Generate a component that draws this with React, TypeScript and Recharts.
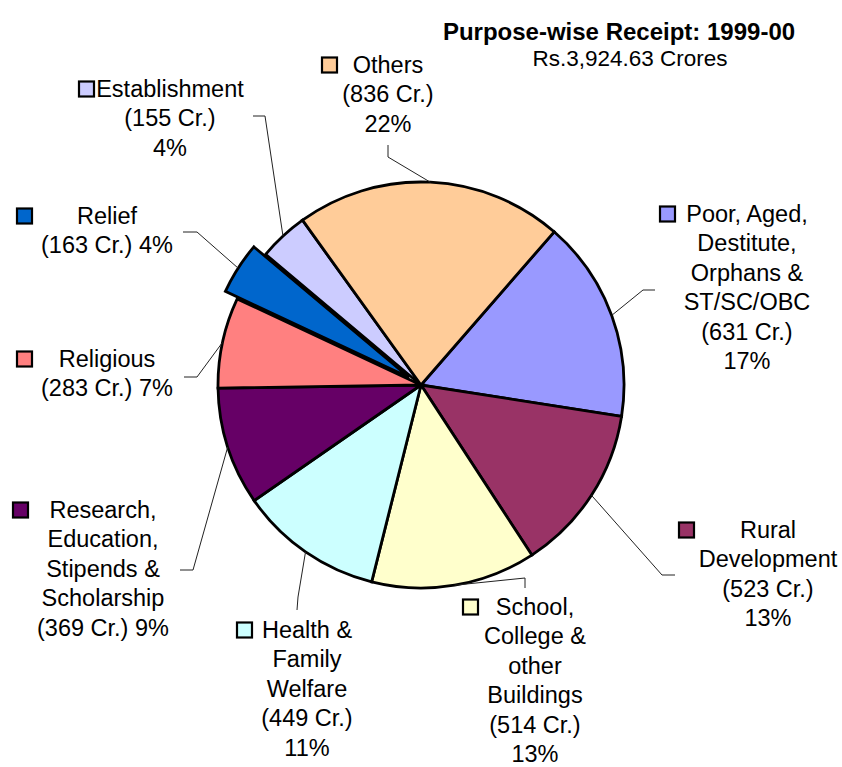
import { PieChart, Pie, Cell } from 'recharts';

// slices clockwise from the upper right, as in the reference
const CATEGORIES = [
  'Poor, Aged, Destitute, Orphans & ST/SC/OBC',
  'Rural Development',
  'School, College & other Buildings',
  'Health & Family Welfare',
  'Research, Education, Stipends & Scholarship',
  'Religious',
  'Relief',
  'Establishment',
  'Others',
];
const AMOUNTS = [631, 523, 514, 449, 369, 283, 163, 155, 836];
const PCT_LABELS = ['17%', '13%', '13%', '11%', '9%', '7%', '4%', '4%', '22%'];

const COLORS = ['#9999FF', '#993366', '#FFFFCC', '#CCFFFF', '#660066', '#FF8080', '#0066CC', '#CCCCFF', '#FFCC99'];

// label text wrapping ('|' = new line) and whether the % sits on the amount line
const WRAPPED = [
  'Poor, Aged,|Destitute,|Orphans &|ST/SC/OBC',
  'Rural|Development',
  'School,|College &|other|Buildings',
  'Health &|Family|Welfare',
  'Research,|Education,|Stipends &|Scholarship',
  'Religious',
  'Relief',
  'Establishment',
  'Others',
];
const PCT_INLINE = [false, false, false, false, true, true, true, false, false];

// label placement: text centre, first baseline, legend key x, leader line start + elbow
const LABEL_POS = [
  { x: 747, y: 222, keyX: 660, lead: [[655, 290], [643, 290]] },
  { x: 768, y: 538, keyX: 679, lead: [[675, 575], [662, 575]] },
  { x: 535, y: 615, keyX: 463, lead: [[525, 588], [525, 578]] },
  { x: 307, y: 638, keyX: 237, lead: [[297, 610], [298, 597]] },
  { x: 103, y: 518, keyX: 13, lead: [[180, 570], [193, 570]] },
  { x: 107, y: 367, keyX: 17, lead: [[184, 377], [197, 377]] },
  { x: 107, y: 224, keyX: 17, lead: [[183, 232], [197, 232]] },
  { x: 170, y: 97, keyX: 79, lead: [[253, 116], [265, 116]] },
  { x: 388, y: 73, keyX: 322, lead: [[388, 145], [388, 157]] },
];

const W = 842;
const H = 767;
const CX = 421;
const CY = 385;
const R = 203;
const START = 49;
const EXPLODED = 6;
const EXPLODE = 14;
const LINE_H = 29.4;
const FONT = '"Liberation Sans", Arial, sans-serif';
const RADIAN = Math.PI / 180;

const data = CATEGORIES.map((name, i) => ({ name, value: AMOUNTS[i] }));
const total = AMOUNTS.reduce((a, b) => a + b, 0);
const before = AMOUNTS.slice(0, EXPLODED).reduce((a, b) => a + b, 0);
const explodeMid = START - ((before + AMOUNTS[EXPLODED] / 2) / total) * 360;
const ex = EXPLODE * Math.cos(explodeMid * RADIAN);
const ey = -EXPLODE * Math.sin(explodeMid * RADIAN);

function renderLabel(props: any) {
  const { cx, cy, midAngle, outerRadius, index } = props;
  const pos = LABEL_POS[index];
  const ox = index === EXPLODED ? ex : 0;
  const oy = index === EXPLODED ? ey : 0;
  const px = cx + ox + outerRadius * Math.cos(-midAngle * RADIAN);
  const py = cy + oy + outerRadius * Math.sin(-midAngle * RADIAN);

  const lines = WRAPPED[index].split('|');
  const amount = `(${AMOUNTS[index]} Cr.)`;
  if (PCT_INLINE[index]) lines.push(`${amount} ${PCT_LABELS[index]}`);
  else lines.push(amount, PCT_LABELS[index]);

  const pts = [...pos.lead, [px, py]].map((p) => p.join(',')).join(' ');

  return (
    <g key={`lbl-${index}`}>
      <polyline points={pts} fill="none" stroke="#222" strokeWidth={1} />
      <rect
        x={pos.keyX}
        y={pos.y - 15.5}
        width={15}
        height={15}
        fill={COLORS[index]}
        stroke="#000"
        strokeWidth={2.2}
      />
      {lines.map((t, i) => (
        <text
          key={i}
          x={pos.x}
          y={pos.y + i * LINE_H}
          textAnchor="middle"
          fontFamily={FONT}
          fontSize={23.5}
          fill="#000"
        >
          {t}
        </text>
      ))}
    </g>
  );
}

export default function App() {
  return (
    <div style={{ position: 'absolute', left: 0, top: 0, width: W, height: H, background: '#fff' }}>
      <PieChart width={W} height={H} margin={{ top: 0, right: 0, bottom: 0, left: 0 }}>
        <Pie
          data={data}
          dataKey="value"
          nameKey="name"
          cx={CX}
          cy={CY}
          outerRadius={R}
          startAngle={START}
          endAngle={START - 360}
          stroke="#000"
          strokeWidth={2.8}
          label={renderLabel}
          labelLine={false}
          isAnimationActive={false}
        >
          {data.map((d, i) => (
            <Cell
              key={d.name}
              fill={i === EXPLODED ? 'none' : COLORS[i]}
              stroke={i === EXPLODED ? 'none' : '#000'}
            />
          ))}
        </Pie>
        <Pie
          data={data}
          dataKey="value"
          nameKey="name"
          cx={CX + ex}
          cy={CY + ey}
          outerRadius={R}
          startAngle={START}
          endAngle={START - 360}
          strokeWidth={2.8}
          isAnimationActive={false}
        >
          {data.map((d, i) => (
            <Cell
              key={d.name}
              fill={i === EXPLODED ? COLORS[i] : 'none'}
              stroke={i === EXPLODED ? '#000' : 'none'}
            />
          ))}
        </Pie>
      </PieChart>
      <svg width={W} height={90} style={{ position: 'absolute', left: 0, top: 0 }}>
        <text x={619} y={40} textAnchor="middle" fontFamily={FONT} fontWeight="bold" fontSize={24}>
          Purpose-wise Receipt: 1999-00
        </text>
        <text x={630} y={66} textAnchor="middle" fontFamily={FONT} fontSize={22.5}>
          Rs.3,924.63 Crores
        </text>
      </svg>
    </div>
  );
}
